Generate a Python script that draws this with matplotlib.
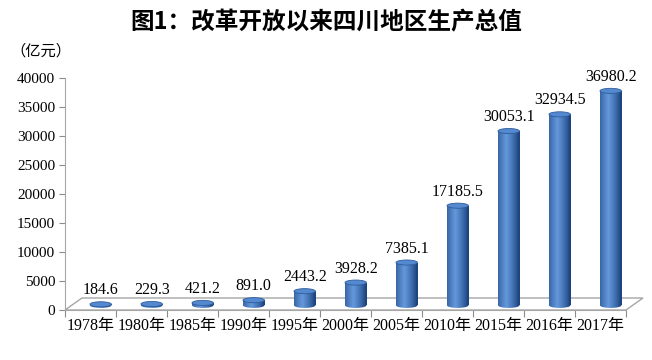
import matplotlib.pyplot as plt
import numpy as np
from matplotlib.patches import Rectangle, Ellipse, Polygon

plt.rcParams['font.family'] = ['Liberation Serif', 'Noto Sans CJK SC']

years = ['1978年', '1980年', '1985年', '1990年', '1995年', '2000年',
         '2005年', '2010年', '2015年', '2016年', '2017年']
gdp = [184.6, 229.3, 421.2, 891.0, 2443.2, 3928.2,
       7385.1, 17185.5, 30053.1, 32934.5, 36980.2]
yticks = list(range(0, 40001, 5000))

fig = plt.figure(figsize=(6.52, 3.60), dpi=100)
ax = fig.add_axes([65 / 652, 50 / 360, 580 / 652, 232 / 360])
n = len(years)
xmax = -0.5 + 580 / 51
ax.set_xlim(-0.5, xmax)
ax.set_ylim(0, 40000)

# 3d-ish floor
depth_x, depth_y = 0.333, 2070
floor = Polygon([(-0.5, 0), (n - 0.5, 0), (n - 0.5 + depth_x, depth_y),
                 (-0.5 + depth_x, depth_y)], closed=True, facecolor='none',
                edgecolor='#a6a6a6', lw=1.0, zorder=1)
ax.add_patch(floor)

# horizontal gradient for cylinders
g = np.linspace(0, 1, 64)
shade = np.clip(1 - 1.8 * np.abs(g - 0.38), 0, 1) ** 0.8
dark = np.array([0x1c, 0x45, 0x80]) / 255
light = np.array([0x64, 0x98, 0xdc]) / 255
grad = dark[None, :] + (light - dark)[None, :] * shade[:, None]
grad = grad[None, :, :]

bw = 0.42
shift = 0.2
base = 800
eh = 880
for i, v in enumerate(gdp):
    cx = i + shift
    x0 = cx - bw / 2
    rect = Rectangle((x0, base), bw, v, facecolor='none', edgecolor='none')
    bot = Ellipse((cx, base), bw, eh, facecolor='none', edgecolor='none')
    ax.add_patch(rect)
    ax.add_patch(bot)
    for p in (rect, bot):
        im = ax.imshow(grad, extent=[x0, x0 + bw, base - eh, base + v],
                       aspect='auto', zorder=2, interpolation='bilinear')
        im.set_clip_path(p)
    top = Ellipse((cx, base + v), bw, eh, facecolor='#5589cf',
                  edgecolor='#2d5c9c', lw=0.6, zorder=3)
    ax.add_patch(top)
    ax.annotate(f'{v:.1f}', (cx, base + v), xytext=(0, 10),
                textcoords='offset points', ha='center', va='center',
                fontsize=11.5, zorder=4)

ax.set_xlim(-0.5, xmax)
ax.set_ylim(0, 40000)

ax.set_yticks(yticks)
ax.set_yticklabels([str(t) for t in yticks], fontsize=11)
ax.set_xticks(np.arange(-0.5, n, 1))
ax.set_xticklabels([])
ax.set_xticks(np.arange(n), minor=True)
ax.set_xticklabels(years, minor=True, fontsize=11.5)
ax.tick_params(axis='x', which='minor', length=0, pad=6)
ax.tick_params(axis='x', which='major', length=5, color='#8c8c8c', direction='out')
ax.tick_params(axis='y', length=4, color='#8c8c8c', pad=3)

for s in ['top', 'right']:
    ax.spines[s].set_visible(False)
ax.spines['bottom'].set_bounds(-0.5, n - 0.5)
ax.spines['bottom'].set_color('#a6a6a6')
ax.spines['left'].set_color('#a6a6a6')
ax.patch.set_alpha(0)

fig.text(0.5, 0.937, '图1：改革开放以来四川地区生产总值', ha='center', va='center',
         fontsize=17, fontweight='bold', family=['Noto Sans CJK SC'])
fig.text(10 / 652, 1 - 51 / 360, '（亿元）', ha='left', va='center', fontsize=11,
         family=['Noto Sans CJK SC'])

fig.savefig('out.png', dpi=100)
